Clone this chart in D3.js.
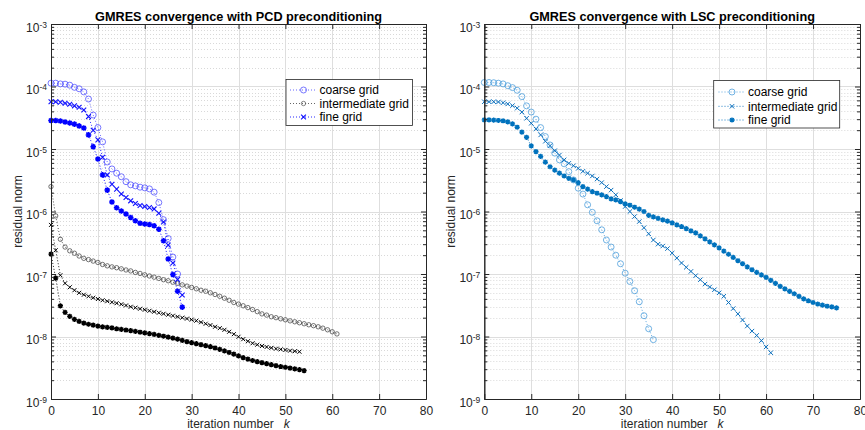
<!DOCTYPE html>
<html>
<head>
<meta charset="utf-8">
<script src="https://cdn.jsdelivr.net/npm/d3@7/dist/d3.min.js"></script>
<style>
  body { margin: 0; background: #fff; }
  svg { display: block; font-family: "Liberation Sans", Arial, Helvetica, sans-serif; }
</style>
</head>
<body>
<div id="chart"></div>
<script>
// residual norms, index = iteration number k (starting at 0)
const pcdCoarseBlue = [1.13e-4, 1.13e-4, 1.10e-4, 1.09e-4, 1.05e-4, 9.7e-5, 9.2e-5, 8.2e-5, 6.3e-5, 3.5e-5,
  2.2e-5, 1.3e-5, 6.2e-6, 4.8e-6, 4.1e-6, 3.6e-6, 3.0e-6, 2.67e-6, 2.57e-6, 2.45e-6,
  2.39e-6, 2.3e-6, 2.04e-6, 1.39e-6, 7.4e-7, 3.7e-7, 1.87e-7, 1.0e-7];
const pcdInterBlue = [5.7e-5, 5.7e-5, 5.6e-5, 5.4e-5, 5.2e-5, 4.9e-5, 4.65e-5, 4.2e-5, 3.3e-5, 2.0e-5,
  1.4e-5, 7.4e-6, 3.85e-6, 2.73e-6, 2.28e-6, 1.91e-6, 1.67e-6, 1.48e-6, 1.34e-6, 1.25e-6,
  1.2e-6, 1.16e-6, 1.1e-6, 9.4e-7, 6.8e-7, 2.9e-7, 1.5e-7, 8.2e-8, 4.6e-8];
const pcdFineBlue = [2.85e-5, 2.85e-5, 2.8e-5, 2.7e-5, 2.6e-5, 2.5e-5, 2.34e-5, 2.17e-5, 1.68e-5, 1.09e-5,
  6.9e-6, 3.85e-6, 2.2e-6, 1.42e-6, 1.15e-6, 1.02e-6, 9.1e-7, 8.0e-7, 7.1e-7, 6.5e-7,
  6.3e-7, 6.2e-7, 5.9e-7, 5.2e-7, 3.4e-7, 1.74e-7, 9.8e-8, 5.3e-8, 2.95e-8];
const pcdCoarseBlack = [2.5e-6, 8.5e-7, 3.6e-7, 2.7e-7, 2.35e-7, 2.15e-7, 1.94e-7, 1.78e-7, 1.7e-7, 1.61e-7,
  1.53e-7, 1.42e-7, 1.35e-7, 1.3e-7, 1.26e-7, 1.21e-7, 1.16e-7, 1.12e-7, 1.06e-7, 1.02e-7,
  9.7e-8, 9.3e-8, 8.9e-8, 8.5e-8, 8.1e-8, 7.8e-8, 7.4e-8, 7.1e-8, 6.7e-8, 6.4e-8,
  6.1e-8, 5.8e-8, 5.5e-8, 5.3e-8, 5.0e-8, 4.7e-8, 4.4e-8, 4.1e-8, 3.8e-8, 3.5e-8,
  3.3e-8, 3.1e-8, 2.9e-8, 2.7e-8, 2.5e-8, 2.3e-8, 2.2e-8, 2.07e-8, 2.0e-8, 1.92e-8,
  1.85e-8, 1.78e-8, 1.72e-8, 1.66e-8, 1.6e-8, 1.54e-8, 1.49e-8, 1.43e-8, 1.36e-8, 1.28e-8,
  1.19e-8, 1.1e-8];
const pcdInterBlack = [6.1e-7, 2.4e-7, 9.55e-8, 7.1e-8, 6.14e-8, 5.5e-8, 5.0e-8, 4.66e-8, 4.4e-8, 4.17e-8,
  3.98e-8, 3.8e-8, 3.67e-8, 3.53e-8, 3.41e-8, 3.28e-8, 3.14e-8, 2.99e-8, 2.89e-8, 2.78e-8,
  2.68e-8, 2.58e-8, 2.49e-8, 2.4e-8, 2.31e-8, 2.23e-8, 2.15e-8, 2.07e-8, 2.0e-8, 1.93e-8,
  1.86e-8, 1.79e-8, 1.69e-8, 1.6e-8, 1.52e-8, 1.43e-8, 1.36e-8, 1.28e-8, 1.19e-8, 1.09e-8,
  9.9e-9, 9.05e-9, 8.4e-9, 7.8e-9, 7.4e-9, 7.05e-9, 6.8e-9, 6.58e-9, 6.38e-9, 6.22e-9,
  6.09e-9, 5.93e-9, 5.82e-9, 5.71e-9];
const pcdFineBlack = [2.08e-7, 8.6e-8, 3.1e-8, 2.43e-8, 2.1e-8, 1.88e-8, 1.74e-8, 1.64e-8, 1.57e-8, 1.52e-8,
  1.47e-8, 1.43e-8, 1.4e-8, 1.37e-8, 1.33e-8, 1.3e-8, 1.27e-8, 1.24e-8, 1.21e-8, 1.17e-8,
  1.14e-8, 1.11e-8, 1.08e-8, 1.045e-8, 1.01e-8, 9.75e-9, 9.4e-9, 9.05e-9, 8.66e-9, 8.26e-9,
  7.96e-9, 7.67e-9, 7.4e-9, 7.13e-9, 6.87e-9, 6.55e-9, 6.22e-9, 5.89e-9, 5.55e-9, 5.21e-9,
  4.88e-9, 4.58e-9, 4.34e-9, 4.13e-9, 3.95e-9, 3.81e-9, 3.67e-9, 3.54e-9, 3.41e-9, 3.31e-9,
  3.22e-9, 3.13e-9, 3.03e-9, 2.95e-9, 2.84e-9];

const lscCoarse = [1.16e-4, 1.16e-4, 1.15e-4, 1.13e-4, 1.1e-4, 1.03e-4, 9.6e-5, 8.7e-5, 6.9e-5, 4.9e-5,
  3.9e-5, 3.0e-5, 2.2e-5, 1.58e-5, 1.16e-5, 8.6e-6, 6.7e-6, 5.8e-6, 4.35e-6, 3.2e-6,
  2.36e-6, 1.9e-6, 1.28e-6, 9.7e-7, 7.1e-7, 5.1e-7, 3.5e-7, 2.7e-7, 2.0e-7, 1.46e-7,
  1.03e-7, 7.6e-8, 5.4e-8, 3.6e-8, 2.15e-8, 1.33e-8, 8.9e-9];
const lscInter = [5.7e-5, 5.7e-5, 5.7e-5, 5.66e-5, 5.5e-5, 5.26e-5, 4.94e-5, 4.5e-5, 3.9e-5, 3.1e-5,
  2.58e-5, 2.1e-5, 1.68e-5, 1.33e-5, 1.13e-5, 9.4e-6, 8.0e-6, 6.7e-6, 5.9e-6, 5.4e-6,
  4.9e-6, 4.4e-6, 4.1e-6, 3.7e-6, 3.3e-6, 2.9e-6, 2.5e-6, 2.2e-6, 1.85e-6, 1.5e-6,
  1.2e-6, 1.0e-6, 8.3e-7, 6.9e-7, 5.5e-7, 4.4e-7, 3.5e-7, 3.0e-7, 2.8e-7, 2.55e-7,
  2.16e-7, 1.8e-7, 1.5e-7, 1.28e-7, 1.1e-7, 9.4e-8, 8.1e-8, 6.9e-8, 6.2e-8, 5.6e-8,
  5.0e-8, 4.4e-8, 3.5e-8, 2.8e-8, 2.3e-8, 1.84e-8, 1.47e-8, 1.22e-8, 1.04e-8, 8.6e-9,
  6.8e-9, 5.5e-9];
const lscFine = [2.92e-5, 2.92e-5, 2.9e-5, 2.86e-5, 2.83e-5, 2.71e-5, 2.52e-5, 2.23e-5, 1.86e-5, 1.54e-5,
  1.12e-5, 9.1e-6, 7.6e-6, 6.15e-6, 5.2e-6, 4.6e-6, 4.1e-6, 3.7e-6, 3.4e-6, 3.2e-6,
  2.9e-6, 2.5e-6, 2.28e-6, 2.08e-6, 1.96e-6, 1.85e-6, 1.73e-6, 1.59e-6, 1.53e-6, 1.44e-6,
  1.32e-6, 1.26e-6, 1.17e-6, 1.09e-6, 1.0e-6, 8.7e-7, 8.2e-7, 7.77e-7, 7.35e-7, 7.0e-7,
  6.6e-7, 6.12e-7, 5.75e-7, 5.34e-7, 4.9e-7, 4.56e-7, 4.08e-7, 3.65e-7, 3.27e-7, 2.93e-7,
  2.62e-7, 2.32e-7, 2.07e-7, 1.84e-7, 1.63e-7, 1.46e-7, 1.3e-7, 1.17e-7, 1.06e-7, 9.7e-8,
  8.85e-8, 7.93e-8, 7.1e-8, 6.36e-8, 5.8e-8, 5.29e-8, 4.83e-8, 4.4e-8, 4.01e-8, 3.73e-8,
  3.5e-8, 3.31e-8, 3.17e-8, 3.05e-8, 2.97e-8, 2.88e-8];

const xTicks = [0, 10, 20, 30, 40, 50, 60, 70, 80];
const yTicks = [1e-9, 1e-8, 1e-7, 1e-6, 1e-5, 1e-4, 1e-3];
const legendLabels = ["coarse grid", "intermediate grid", "fine grid"];
const titles = ["GMRES convergence with PCD preconditioning", "GMRES convergence with LSC preconditioning"];

const W = 865, H = 430;
const plotTop = 24, plotBottom = 399;
const axisColor = "#262626";

const svg = d3.select("#chart").append("svg").attr("width", W).attr("height", H);

const y = d3.scaleLog().domain([1e-9, 1e-3]).range([plotBottom, plotTop]);
const yMinor = [];
yTicks.slice(0, -1).forEach((d) => {
  for (let m = 2; m <= 9; m++) yMinor.push(+(m * d).toPrecision(3));
});

// marker shapes
const markerD = {
  circle: (s) => `M${-s},0a${s},${s} 0 1,0 ${2 * s},0a${s},${s} 0 1,0 ${-2 * s},0`,
  x: (s) => `M${-s},${-s}L${s},${s}M${-s},${s}L${s},${-s}`,
  star: (s) => {
    const a = s * 0.72;
    return `M${-s},0L${s},0M0,${-s}L0,${s}M${-a},${-a}L${a},${a}M${-a},${a}L${a},${-a}`;
  },
};

const drawPanel = (cfg) => {
  const x = d3.scaleLinear().domain([0, 80]).range([cfg.x0, cfg.x1]);
  const g = svg.append("g");

  // grid
  g.append("g").selectAll("line").data(yMinor).join("line")
    .attr("x1", cfg.x0).attr("x2", cfg.x1)
    .attr("y1", (d) => Math.round(y(d)) + 0.5).attr("y2", (d) => Math.round(y(d)) + 0.5)
    .attr("stroke", "#cfcfcf").attr("stroke-width", 0.8).attr("stroke-dasharray", "1,2");
  g.append("g").selectAll("line").data(yTicks.slice(1, -1)).join("line")
    .attr("x1", cfg.x0).attr("x2", cfg.x1)
    .attr("y1", (d) => Math.round(y(d)) + 0.5).attr("y2", (d) => Math.round(y(d)) + 0.5)
    .attr("stroke", "#dedede");
  g.append("g").selectAll("line").data(xTicks.slice(1, -1)).join("line")
    .attr("x1", (d) => Math.round(x(d)) + 0.5).attr("x2", (d) => Math.round(x(d)) + 0.5)
    .attr("y1", plotTop).attr("y2", plotBottom)
    .attr("stroke", "#dedede");

  // series
  const line = d3.line().x((d, i) => x(i)).y((d) => y(d));
  cfg.series.forEach((s) => {
    g.append("path")
      .attr("d", line(s.data))
      .attr("fill", "none")
      .attr("stroke", s.color)
      .attr("stroke-width", 0.9)
      .attr("stroke-dasharray", "1,2");
    g.append("g").selectAll("path").data(s.data).join("path")
      .attr("transform", (d, i) => `translate(${x(i)},${y(d)})`)
      .attr("d", markerD[s.marker](s.size))
      .attr("fill", "none")
      .attr("stroke", s.color)
      .attr("stroke-width", s.sw);
  });

  // axes (box with inner ticks)
  const styleAxis = (a) => {
    a.select(".domain").attr("stroke", axisColor);
    a.selectAll(".tick line").attr("stroke", axisColor);
    a.selectAll("text").attr("fill", axisColor).attr("font-size", 12)
      .attr("font-family", '"Liberation Sans", Arial, sans-serif');
  };
  g.append("g").attr("transform", `translate(0,${plotBottom})`)
    .call(d3.axisBottom(x).tickValues(xTicks).tickSize(-5).tickPadding(7).tickSizeOuter(0))
    .call(styleAxis);
  g.append("g").attr("transform", `translate(0,${plotTop})`)
    .call(d3.axisTop(x).tickValues(xTicks).tickSize(-5).tickFormat("").tickSizeOuter(0))
    .call(styleAxis);
  const yl = g.append("g").attr("transform", `translate(${cfg.x0},0)`)
    .call(d3.axisLeft(y).tickValues(yTicks).tickSize(-5).tickPadding(4).tickSizeOuter(0))
    .call(styleAxis);
  yl.selectAll(".tick text").each(function (d) {
    const t = d3.select(this).text(null).attr("dy", "0.62em");
    t.append("tspan").text("10");
    t.append("tspan").attr("dy", "-0.5em").attr("font-size", 8.5)
      .text(String(Math.round(Math.log10(d))));
  });
  g.append("g").attr("transform", `translate(${cfg.x0},0)`)
    .call(d3.axisLeft(y).tickValues(yMinor).tickSize(-3).tickFormat("").tickSizeOuter(0))
    .call(styleAxis);
  g.append("g").attr("transform", `translate(${cfg.x1},0)`)
    .call(d3.axisRight(y).tickValues(yTicks).tickSize(-5).tickFormat("").tickSizeOuter(0))
    .call(styleAxis);
  g.append("g").attr("transform", `translate(${cfg.x1},0)`)
    .call(d3.axisRight(y).tickValues(yMinor).tickSize(-3).tickFormat("").tickSizeOuter(0))
    .call(styleAxis);

  // labels
  const cx = (cfg.x0 + cfg.x1) / 2;
  g.append("text").attr("x", cx).attr("y", 20.5).attr("text-anchor", "middle")
    .attr("font-size", 12.7).attr("font-weight", "bold").attr("fill", "#000").text(cfg.title);
  const xl = g.append("text").attr("x", cx).attr("y", 428).attr("text-anchor", "middle")
    .attr("font-size", 12).attr("fill", axisColor);
  xl.append("tspan").text("iteration number");
  xl.append("tspan").attr("dx", 10).attr("font-style", "italic").text("k");
  g.append("text")
    .attr("transform", `translate(${cfg.x0 - 29.5},${(plotTop + plotBottom) / 2}) rotate(-90)`)
    .attr("text-anchor", "middle").attr("font-size", 12).attr("fill", axisColor)
    .text("residual norm");

  // legend
  const L = cfg.legend;
  const lg = g.append("g");
  lg.append("rect").attr("x", L.x).attr("y", L.y).attr("width", L.w).attr("height", L.h)
    .attr("fill", "#fff").attr("stroke", axisColor).attr("stroke-width", 0.8);
  L.items.forEach((s, i) => {
    const ry = L.rows[i];
    lg.append("line").attr("x1", L.lx0).attr("x2", L.lx1).attr("y1", ry).attr("y2", ry)
      .attr("stroke", s.color).attr("stroke-width", 0.9).attr("stroke-dasharray", "1,2");
    lg.append("path").attr("transform", `translate(${(L.lx0 + L.lx1) / 2},${ry})`)
      .attr("d", markerD[s.marker](s.size)).attr("fill", "none")
      .attr("stroke", s.color).attr("stroke-width", s.sw);
    lg.append("text").attr("x", L.tx).attr("y", ry + 4.3).attr("font-size", 12)
      .attr("fill", "#000").text(legendLabels[i]);
  });
};

const sPcdCoarseBlack = { data: pcdCoarseBlack, color: "#3a3a3a", marker: "circle", size: 2.2, sw: 0.7 };
const sPcdInterBlack = { data: pcdInterBlack, color: "#000", marker: "x", size: 2, sw: 1 };
const sPcdFineBlack = { data: pcdFineBlack, color: "#000", marker: "star", size: 2.6, sw: 1.4 };
const sPcdCoarseBlue = { data: pcdCoarseBlue, color: "#5555ff", marker: "circle", size: 3, sw: 0.8 };
const sPcdInterBlue = { data: pcdInterBlue, color: "#1010ff", marker: "x", size: 2.4, sw: 1.1 };
const sPcdFineBlue = { data: pcdFineBlue, color: "#0000ff", marker: "star", size: 2.8, sw: 1.5 };

drawPanel({
  x0: 51, x1: 426, title: titles[0],
  series: [sPcdCoarseBlack, sPcdInterBlack, sPcdFineBlack, sPcdCoarseBlue, sPcdInterBlue, sPcdFineBlue],
  legend: {
    x: 286, y: 79.5, w: 126.5, h: 46, lx0: 290, lx1: 317, tx: 319.5, rows: [90, 103.5, 117],
    items: [sPcdCoarseBlue, { ...sPcdCoarseBlack, color: "#555" }, sPcdInterBlue],
  },
});

const sLscCoarse = { data: lscCoarse, color: "#4f9fdc", marker: "circle", size: 3, sw: 0.8 };
const sLscInter = { data: lscInter, color: "#0a6fbd", marker: "x", size: 2.2, sw: 1 };
const sLscFine = { data: lscFine, color: "#0072bd", marker: "star", size: 2.6, sw: 1.4 };

drawPanel({
  x0: 484.3, x1: 860, title: titles[1],
  series: [sLscCoarse, sLscInter, sLscFine],
  legend: {
    x: 713.7, y: 80.5, w: 126, h: 47.5, lx0: 718.5, lx1: 745.5, tx: 748, rows: [92, 106.3, 120],
    items: [sLscCoarse, sLscInter, sLscFine],
  },
});
</script>
</body>
</html>
